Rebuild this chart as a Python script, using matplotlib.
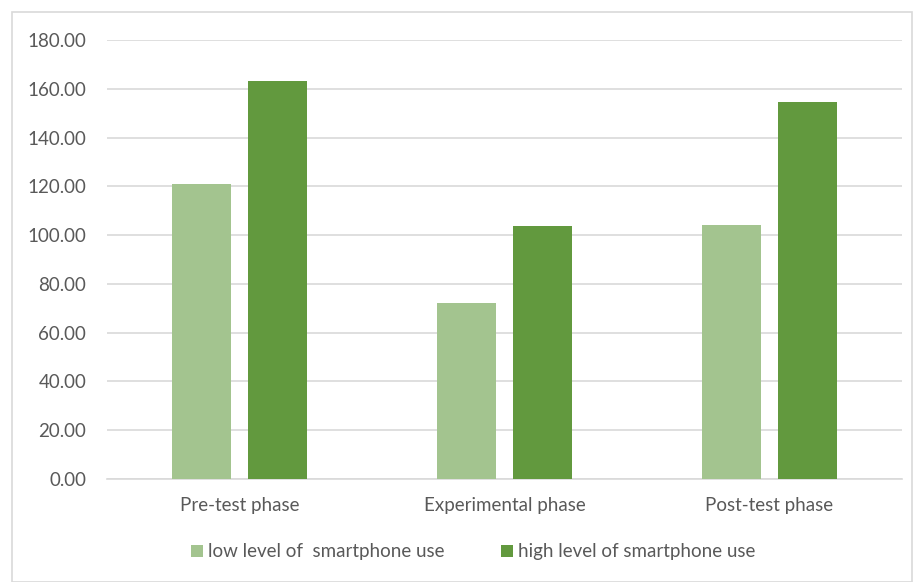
import matplotlib.pyplot as plt
import numpy as np
from matplotlib.patches import Rectangle

phases = ["Pre-test phase", "Experimental phase", "Post-test phase"]
low_use = [121.0, 72.3, 104.0]
high_use = [163.2, 103.9, 154.7]
yticks = [0, 20, 40, 60, 80, 100, 120, 140, 160, 180]

plt.rcParams['font.family'] = ['Lato', 'DejaVu Sans']
text_color = "#595959"

fig = plt.figure(figsize=(9.13, 5.82), dpi=100)
ax = fig.add_axes([107 / 913, 1 - 479 / 582, 795 / 913, 439 / 582])

x = np.arange(len(phases))
w = 0.223
ax.bar(x - 0.143, low_use, w, color="#A3C48F", label="low level of  smartphone use", zorder=3)
ax.bar(x + 0.143, high_use, w, color="#62993E", label="high level of smartphone use", zorder=3)

ax.set_xlim(-0.5, 2.5)
ax.set_ylim(0, 180)
ax.set_yticks(yticks)
ax.set_yticklabels([f"{v:.2f}" for v in yticks])
ax.set_xticks(x)
ax.set_xticklabels(phases)
ax.tick_params(axis="both", length=0, labelsize=13.5, colors=text_color)
ax.tick_params(axis="y", pad=15)
ax.tick_params(axis="x", pad=13)
ax.yaxis.grid(True, color="#D9D9D9", linewidth=1.2, zorder=0)
for s in ["top", "right", "left"]:
    ax.spines[s].set_visible(False)
ax.spines["bottom"].set_color("#D9D9D9")
ax.spines["bottom"].set_linewidth(1.2)

leg = fig.legend(loc="center", bbox_to_anchor=(473 / 913, 1 - 552 / 582), ncol=2,
                 frameon=False, fontsize=13.5, handlelength=0.65, handleheight=0.65,
                 handletextpad=0.25, columnspacing=3.0)
for t in leg.get_texts():
    t.set_color(text_color)

fig.patches.append(Rectangle((12 / 913, 0), 900 / 913, 1 - 12 / 582, transform=fig.transFigure,
                             fill=False, edgecolor="#D9D9D9", linewidth=1.2))

fig.savefig("out.png", dpi=100)
